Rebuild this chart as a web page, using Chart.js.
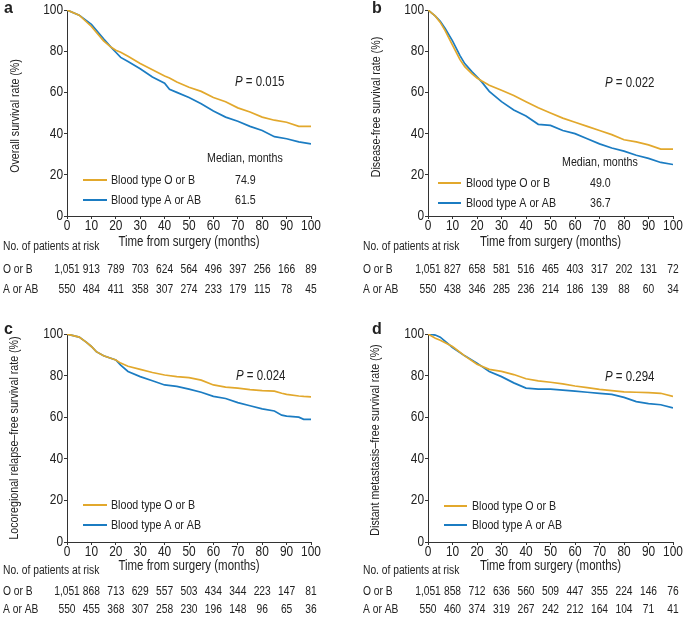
<!DOCTYPE html>
<html>
<head>
<meta charset="utf-8">
<script src="https://cdn.jsdelivr.net/npm/chart.js@4/dist/chart.umd.min.js"></script>
<style>
  body { margin: 0; background: #fff; }
  #wrap { position: relative; width: 685px; height: 625px; overflow: hidden; }
  canvas { position: absolute; }
</style>
</head>
<body>
<div id="wrap">
  <canvas id="panelA" width="340" height="310" style="left:0;top:0"></canvas>
  <canvas id="panelB" width="345" height="310" style="left:340px;top:0"></canvas>
  <canvas id="panelC" width="340" height="315" style="left:0;top:310px"></canvas>
  <canvas id="panelD" width="345" height="315" style="left:340px;top:310px"></canvas>
</div>
<script>
// ---- data ----
const riskMonths = [0, 10, 20, 30, 40, 50, 60, 70, 80, 90, 100];

// a: overall survival
const osMonths = [0, 5, 10, 15, 18, 20, 22, 25, 30, 35, 40, 42, 45, 50, 55, 60, 65, 70, 75, 80, 85, 90, 95, 100];
const osOB = [100, 97.5, 92, 85, 82, 80.5, 79.5, 77.5, 74, 71, 68, 67, 65, 62.5, 60.5, 57.5, 55.5, 52.5, 50.5, 48, 46.5, 45.5, 43.5, 43.5];
const osAAB = [100, 97.5, 93, 86, 82, 79.5, 77, 75, 71.5, 67.5, 64.5, 61.5, 60, 57.5, 54.5, 51, 48, 46, 43.5, 41.5, 38.5, 37.5, 36, 35];
const osRiskOB = ["1,051", "913", "789", "703", "624", "564", "496", "397", "256", "166", "89"];
const osRiskAAB = ["550", "484", "411", "358", "307", "274", "233", "179", "115", "78", "45"];

// b: disease-free survival
const dfsMonths = [0, 3, 5, 7, 10, 13, 15, 18, 20, 22, 25, 30, 35, 40, 45, 50, 55, 60, 65, 70, 75, 80, 85, 90, 95, 100];
const dfsOB = [100, 97, 94, 90, 83, 76, 72.5, 69, 67, 65.5, 63.5, 61, 58.5, 55.5, 52.5, 50, 47.5, 45.5, 43.5, 41.5, 39.5, 37, 36, 34.5, 32.5, 32.5];
const dfsAAB = [100, 97, 94.5, 91, 85, 78, 74, 70, 67.5, 65, 60.5, 55.5, 51.5, 48.5, 44.5, 44, 41.5, 40, 37.5, 35, 33, 31.5, 29.5, 28, 26, 25];
const dfsRiskOB = ["1,051", "827", "658", "581", "516", "465", "403", "317", "202", "131", "72"];
const dfsRiskAAB = ["550", "438", "346", "285", "236", "214", "186", "139", "88", "60", "34"];

// c: locoregional relapse-free survival
const lrfsMonths = [0, 5, 8, 10, 12, 15, 20, 22, 25, 30, 35, 40, 45, 50, 55, 60, 65, 70, 75, 80, 85, 88, 90, 95, 97, 100];
const lrfsOB = [100, 98.5, 96, 94, 91.5, 89.5, 87.5, 86, 84.5, 83, 81.5, 80.3, 79.5, 79, 77.8, 75.5, 74.5, 74, 73.3, 72.8, 72.5, 71.5, 71, 70.2, 70, 69.8];
const lrfsAAB = [100, 98.5, 96, 94, 91.5, 89.5, 87.5, 85, 82, 79.5, 77.5, 75.5, 74.8, 73.5, 72, 70, 69, 67, 65.5, 64, 63, 61, 60.5, 60, 59, 59];
const lrfsRiskOB = ["1,051", "868", "713", "629", "557", "503", "434", "344", "223", "147", "81"];
const lrfsRiskAAB = ["550", "455", "368", "307", "258", "230", "196", "148", "96", "65", "36"];

// d: distant metastasis-free survival
const dmfsMonths = [0, 3, 5, 10, 15, 20, 25, 30, 35, 40, 45, 50, 55, 60, 65, 70, 75, 80, 85, 90, 95, 100];
const dmfsOB = [100, 98, 97, 94, 89.5, 85.5, 83, 82, 80.5, 78.5, 77.5, 76.8, 76, 75, 74.2, 73.4, 72.8, 72.2, 72, 71.8, 71.5, 70];
const dmfsAAB = [100, 99.5, 98.5, 93.5, 89.5, 86, 82, 79.5, 76.5, 74, 73.5, 73.5, 73, 72.5, 72, 71.5, 71, 69.5, 67.5, 66.5, 66, 64.5];
const dmfsRiskOB = ["1,051", "858", "712", "636", "560", "509", "447", "355", "224", "146", "76"];
const dmfsRiskAAB = ["550", "460", "374", "319", "267", "242", "212", "164", "104", "71", "41"];

const GOLD = "#e2a82c";
const BLUE = "#1b7cc2";
const INK = "#222";
const FONT = "'Liberation Sans', Arial, sans-serif";
const SQUEEZE = 0.82; // no narrow face installed, so squeeze Liberation Sans

const toPoints = (xs, ys) => xs.map((x, i) => ({ x: x, y: ys[i] }));

// narrow text helper
function say(ctx, s, x, y, align, size, style) {
  ctx.save();
  ctx.translate(x, y);
  ctx.scale(SQUEEZE, 1);
  ctx.textAlign = align;
  ctx.textBaseline = "middle";
  ctx.font = (style ? style + " " : "") + size + "px " + FONT;
  ctx.fillText(s, 0, 0);
  const w = ctx.measureText(s).width * SQUEEZE;
  ctx.restore();
  return w;
}

const kmText = {
  id: "kmText",
  afterDraw(chart, args, o) {
    const ctx = chart.ctx;
    const xs = chart.scales.x;
    const ys = chart.scales.y;
    const area = chart.chartArea;
    ctx.save();
    ctx.fillStyle = INK;

    // tick labels from the scales
    xs.ticks.forEach((t) => say(ctx, String(t.value), xs.getPixelForValue(t.value), area.bottom + 10, "center", 14.5));
    ys.ticks.forEach((t) => say(ctx, String(t.value), area.left - 4, ys.getPixelForValue(t.value), "right", 14.5));

    ctx.textBaseline = "middle";
    ctx.textAlign = "left";
    ctx.font = "bold 16px " + FONT;
    ctx.fillText(o.letter, o.letterX, o.letterY);

    ctx.save();
    ctx.translate(o.yTitleX, (area.top + area.bottom) / 2 + o.yTitleDy);
    ctx.rotate(-Math.PI / 2);
    say(ctx, o.yTitle, 0, 0, "center", 13);
    ctx.restore();

    say(ctx, "Time from surgery (months)", (area.left + area.right) / 2, area.bottom + o.xTitleDy, "center", 14);

    say(ctx, "No. of patients at risk", o.riskX, area.bottom + o.riskHeadDy, "left", 12.5);
    say(ctx, "O or B", o.riskX, area.bottom + o.row1Dy, "left", 12.5);
    say(ctx, "A or AB", o.riskX, area.bottom + o.row2Dy, "left", 12.5);
    riskMonths.forEach((m, i) => {
      const px = xs.getPixelForValue(m);
      say(ctx, o.riskOB[i], px, area.bottom + o.row1Dy, "center", 12.5);
      say(ctx, o.riskAAB[i], px, area.bottom + o.row2Dy, "center", 12.5);
    });

    // legend
    ctx.lineWidth = 2;
    [[GOLD, "Blood type O or B", o.medOB], [BLUE, "Blood type A or AB", o.medAAB]].forEach((row, i) => {
      const y = o.legY[i];
      ctx.strokeStyle = row[0];
      ctx.beginPath();
      ctx.moveTo(o.legX0, y);
      ctx.lineTo(o.legX1, y);
      ctx.stroke();
      say(ctx, row[1], o.legTextX, y, "left", 13);
      if (row[2]) say(ctx, row[2], o.medX, y, "left", 13);
    });
    if (o.medHead) say(ctx, "Median, months", o.medHead[0], o.medHead[1], "left", 13);

    // P value
    const w = say(ctx, "P", o.pX, o.pY, "left", 14, "italic");
    say(ctx, " = " + o.p, o.pX + w, o.pY, "left", 14);
    ctx.restore();
  }
};

function makePanel(id, cfg) {
  const canvas = document.getElementById(id);
  new Chart(canvas.getContext("2d"), {
    type: "line",
    data: {
      datasets: [
        { label: "Blood type O or B", data: toPoints(cfg.months, cfg.ob), borderColor: GOLD, borderWidth: 1.7, pointRadius: 0, tension: 0, fill: false },
        { label: "Blood type A or AB", data: toPoints(cfg.months, cfg.aab), borderColor: BLUE, borderWidth: 1.7, pointRadius: 0, tension: 0, fill: false },
      ],
    },
    options: {
      responsive: false,
      animation: false,
      events: [],
      layout: { padding: { left: 0, top: cfg.top, right: cfg.right, bottom: 0 } },
      plugins: {
        legend: { display: false },
        tooltip: { enabled: false },
        kmText: cfg.text,
      },
      scales: {
        x: {
          type: "linear",
          min: 0,
          max: 100,
          afterFit: (s) => { s.height = canvas.height - cfg.bottom; },
          ticks: { stepSize: 10, display: false },
          grid: { drawOnChartArea: false, tickLength: 3, color: "#333" },
          border: { color: "#333", width: 1 },
        },
        y: {
          min: 0,
          max: 100,
          afterFit: (s) => { s.width = cfg.left; },
          ticks: { stepSize: 20, display: false },
          grid: { drawOnChartArea: false, tickLength: 3, color: "#333" },
          border: { color: "#333", width: 1 },
        },
      },
    },
    plugins: [kmText],
  });
}

makePanel("panelA", {
  months: osMonths, ob: osOB, aab: osAAB, left: 67, top: 10, right: 29, bottom: 216,
  text: {
    letter: "a", letterX: 4, letterY: 9,
    yTitle: "Overall survival rate (%)", yTitleX: 15, yTitleDy: 3,
    xTitleDy: 26, riskX: 3, riskHeadDy: 31, row1Dy: 54, row2Dy: 74,
    riskOB: osRiskOB, riskAAB: osRiskAAB,
    legY: [180, 200], legX0: 83, legX1: 107, legTextX: 111, medX: 235, medOB: "74.9", medAAB: "61.5",
    medHead: [207, 158], pX: 235, pY: 82, p: "0.015",
  },
});

makePanel("panelB", {
  months: dfsMonths, ob: dfsOB, aab: dfsAAB, left: 88, top: 10, right: 12, bottom: 216,
  text: {
    letter: "b", letterX: 32, letterY: 9,
    yTitle: "Disease-free survival rate (%)", yTitleX: 36, yTitleDy: -6,
    xTitleDy: 26, riskX: 23, riskHeadDy: 31, row1Dy: 54, row2Dy: 74,
    riskOB: dfsRiskOB, riskAAB: dfsRiskAAB,
    legY: [183, 203], legX0: 98, legX1: 121, legTextX: 126, medX: 250, medOB: "49.0", medAAB: "36.7",
    medHead: [222, 162], pX: 265, pY: 83, p: "0.022",
  },
});

makePanel("panelC", {
  months: lrfsMonths, ob: lrfsOB, aab: lrfsAAB, left: 67, top: 24, right: 29, bottom: 232,
  text: {
    letter: "c", letterX: 4, letterY: 20,
    yTitle: "Locoregional relapse\u2013free survival rate (%)", yTitleX: 14, yTitleDy: 0,
    xTitleDy: 24, riskX: 3, riskHeadDy: 29, row1Dy: 50, row2Dy: 68,
    riskOB: lrfsRiskOB, riskAAB: lrfsRiskAAB,
    legY: [195, 215], legX0: 83, legX1: 107, legTextX: 111, medX: 0, medOB: "", medAAB: "",
    medHead: null, pX: 236, pY: 66, p: "0.024",
  },
});

makePanel("panelD", {
  months: dmfsMonths, ob: dmfsOB, aab: dmfsAAB, left: 88, top: 24, right: 12, bottom: 232,
  text: {
    letter: "d", letterX: 32, letterY: 20,
    yTitle: "Distant metastasis\u2013free survival rate (%)", yTitleX: 35, yTitleDy: 2,
    xTitleDy: 24, riskX: 23, riskHeadDy: 29, row1Dy: 50, row2Dy: 68,
    riskOB: dmfsRiskOB, riskAAB: dmfsRiskAAB,
    legY: [196, 215], legX0: 104, legX1: 127, legTextX: 132, medX: 0, medOB: "", medAAB: "",
    medHead: null, pX: 265, pY: 67, p: "0.294",
  },
});
</script>
</body>
</html>
